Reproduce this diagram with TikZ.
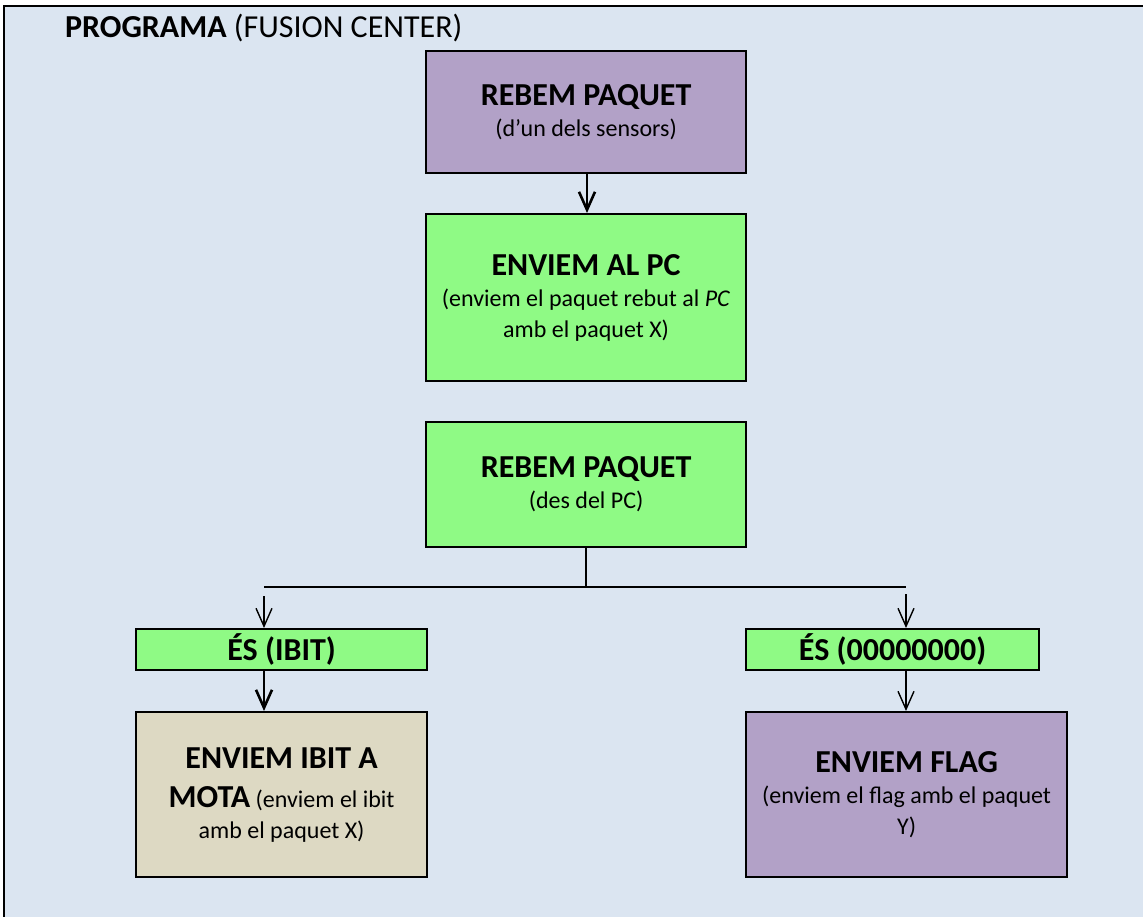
\documentclass[tikz,border=0pt]{standalone}
\usepackage{fontspec}
\setmainfont{Carlito}
\usetikzlibrary{arrows.meta}
\definecolor{fons}{HTML}{DBE5F1}
\definecolor{lila}{HTML}{B2A1C7}
\definecolor{verd}{HTML}{8FFA85}
\definecolor{beix}{HTML}{DDD9C3}
\newcommand{\titol}{\fontsize{32}{38}\selectfont\bfseries}
\begin{document}
\begin{tikzpicture}[
		    x=1pt, y=-1pt,
		    caixa/.style={draw, line width=2.2pt, anchor=north west, align=center,
		        inner sep=0pt, font=\fontsize{24}{31}\selectfont},
		    fletxa/.style={-{Straight Barb[length=18pt,width=16pt]}, line width=1.4pt},
		    gruixa/.style={fletxa, line width=2.6pt}]
			\useasboundingbox (0,0) rectangle (1143,917);
			\fill[fons] (4,6) rectangle (1143,917);
			\draw[line width=2.5pt] (4,917) -- (4,6) -- (1143,6);
			\node[anchor=base west, inner sep=0pt, font=\fontsize{32}{38}\selectfont] (programa)
			    at (65,38) {\textbf{PROGRAMA} (FUSION CENTER)};
			% caixes
			\node[caixa, fill=lila, minimum width=320, minimum height=122] (rebem) at (425,50)
			    {{\titol REBEM PAQUET}\\(d’un dels sensors)};
			\node[caixa, fill=verd, minimum width=320, minimum height=167] (enviempc) at (425,213)
			    {{\titol ENVIEM AL PC}\\(enviem el paquet rebut al \textit{PC}\\amb el paquet X)};
			\node[caixa, fill=verd, minimum width=320, minimum height=125] (rebempc) at (425,421)
			    {{\titol REBEM PAQUET}\\(des del PC)};
			\node[caixa, fill=verd, minimum width=291, minimum height=41] (esibit) at (135,628)
			    {\titol ÉS (IBIT)};
			\node[caixa, fill=verd, minimum width=293, minimum height=41] (eszero) at (745,628)
			    {\titol ÉS (00000000)};
			\node[caixa, fill=beix, minimum width=291, minimum height=165] (enviemibit) at (135,711)
			    {{\titol ENVIEM IBIT A}\\[8pt]{\titol MOTA} (enviem el ibit\\amb el paquet X)};
			\node[caixa, fill=lila, minimum width=321, minimum height=165] (enviemflag) at (745,711)
			    {{\titol ENVIEM FLAG}\\(enviem el flag amb el paquet\\Y)};
			% fletxes
			\coordinate (centre) at (586,587);
			\coordinate (esq) at (264,587);
			\coordinate (dre) at (906,587);
			\draw[gruixa] (rebem.south -| 587,0) -- (enviempc.north -| 587,0);
			\draw[line width=1.4pt] (rebempc.south -| centre) -- (centre);
			\draw[line width=1.4pt] (esq) -- (dre);
			\draw[fletxa] ([yshift=-9]esq) -- (esq |- esibit.north);
			\draw[fletxa] ([yshift=-7]dre) -- (dre |- eszero.north);
			\draw[gruixa] (esibit.south -| esq) -- (enviemibit.north -| esq);
			\draw[fletxa] (eszero.south -| dre) -- (enviemflag.north -| dre);
		\end{tikzpicture}
\end{document}
